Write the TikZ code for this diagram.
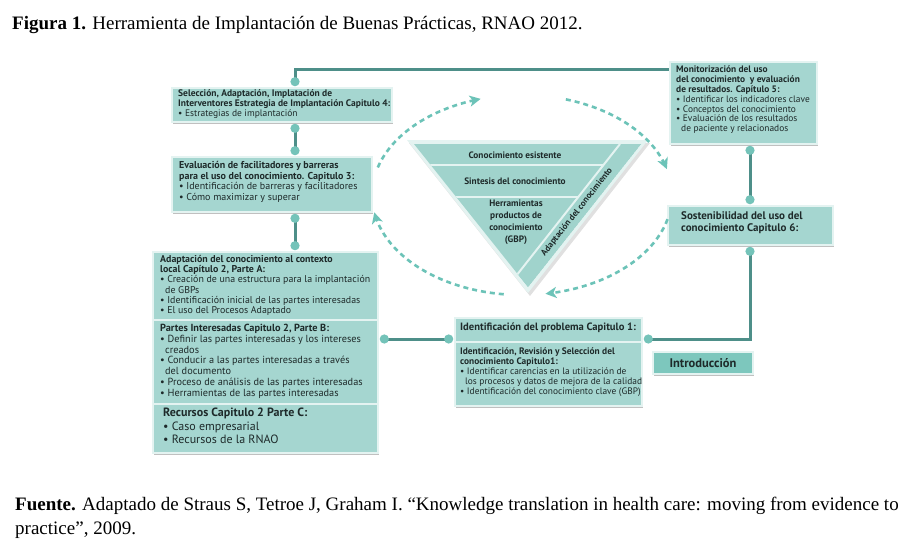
\documentclass[tikz,border=0pt]{standalone}
\usepackage{fontspec}
\setmainfont{Liberation Serif}
\newfontfamily\dfont{PT Sans}
\usetikzlibrary{shadows,arrows.meta,calc}
\definecolor{boxfill}{HTML}{A5D6D0}
\definecolor{boxedge}{HTML}{E4F3F1}
\definecolor{lineteal}{HTML}{4E8F89}
\definecolor{dotteal}{HTML}{74C3B9}
\definecolor{dashteal}{HTML}{6CC3B8}
\definecolor{introfill}{HTML}{7DC7BD}
\definecolor{txtcol}{HTML}{1E2A2A}
\definecolor{trifill}{HTML}{A0D3CC}
\newcommand{\bl}{\textbullet\ }
\newcommand{\hg}{\hspace*{5pt}}
\newcommand{\dotat}[1]{\fill[dotteal] #1 circle (4.6);}
\begin{document}
\begin{tikzpicture}[x=1pt,y=-1pt,
  box/.style={draw=boxedge, line width=2.6pt, fill=boxfill, inner sep=0pt,
    drop shadow={shadow xshift=1.2pt, shadow yshift=-2.4pt, opacity=0.35, fill=black!70}},
  tx/.style={font=\dfont\fontsize{9}{10}\selectfont, text=txtcol, align=left, anchor=north west, inner sep=0pt},
  conn/.style={draw=lineteal, line width=3pt},
  dasharr/.style={draw=dashteal, line width=2.6pt, dash pattern=on 5pt off 4pt,
    -{Stealth[length=11pt,width=11pt,inset=3pt]}},
  tritx/.style={font=\dfont\bfseries\fontsize{9.3}{12}\selectfont, text=txtcol, align=center, inner sep=0pt}
]
\useasboundingbox (0,0) rectangle (910,547);
\fill[white] (0,0) rectangle (910,547);

% captions
\node[anchor=west, inner sep=0pt] (cap1) at (12,25) {\fontsize{19}{22}\selectfont\textbf{Figura 1.} Herramienta de Implantación de Buenas Prácticas, RNAO 2012.};
\node[anchor=west, inner sep=0pt] (cap2) at (15,506) {\fontsize{19}{22}\selectfont\textbf{Fuente.} Adaptado de Straus S, Tetroe J, Graham I. “Knowledge translation in health care: moving from evidence to};
\node[anchor=west, inner sep=0pt] (cap3) at (15,530) {\fontsize{19}{22}\selectfont practice”, 2009.};

% reference coordinates for connectors
\coordinate (vx) at (295,0);
\coordinate (vr) at (750,0);
\coordinate (hy) at (0,339);

% boxes
\node[box, minimum width=220pt, minimum height=34pt] (b4) at (282,105) {};
\node[box, minimum width=147pt, minimum height=82pt] (b5) at (743.5,103) {};
\node[box, minimum width=200pt, minimum height=55pt] (b3) at (272,184.5) {};
\node[box, minimum width=225pt, minimum height=201pt] (b2) at (265.5,352.5) {};
\node[box, minimum width=165pt, minimum height=39pt] (b6) at (750.5,225.5) {};
\node[box, minimum width=187pt, minimum height=88pt] (b1) at (548.5,362) {};
\node[box, fill=introfill, minimum width=100pt, minimum height=22pt] (intro) at (703,363)
  {\dfont\bfseries\fontsize{12.5}{14}\selectfont\textcolor{txtcol}{Introducción}};

% section separators
\draw[boxedge, line width=2.6pt] (b2.west |- 0,320) -- (b2.east |- 0,320);
\draw[boxedge, line width=2.6pt] (b2.west |- 0,404) -- (b2.east |- 0,404);
\draw[boxedge, line width=2.6pt] (b1.west |- 0,342) -- (b1.east |- 0,342);

% texts
\node[tx, font=\dfont\fontsize{9.5}{10.3}\selectfont] (t4) at (178,89) {\textbf{Selección, Adaptación, Implatación de}\\\textbf{Interventores Estrategia de Implantación Capitulo 4:}\\\bl Estrategias de implantación};
\node[tx, font=\dfont\fontsize{9.4}{9.8}\selectfont] (t5) at (676,66) {\textbf{Monitorización del uso}\\\textbf{del conocimiento\ \ y evaluación}\\\textbf{de resultados. Capítulo 5:}\\\bl Identificar los indicadores clave\\\bl Conceptos del conocimiento\\\bl Evaluación de los resultados\\\hg de paciente y relacionados};
\node[tx, font=\dfont\fontsize{10}{10.6}\selectfont] (t3) at (179,161) {\textbf{Evaluación de facilitadores y barreras}\\\textbf{para el uso del conocimiento. Capitulo 3:}\\\bl Identificación de barreras y facilitadores\\\bl Cómo maximizar y superar};
\node[tx, font=\dfont\fontsize{9.9}{10.3}\selectfont] (tA) at (160,255) {\textbf{Adaptación del conocimiento al contexto}\\\textbf{local Capítulo 2, Parte A:}\\\bl Creación de una estructura para la implantación\\\hg de GBPs\\\bl Identificación inicial de las partes interesadas\\\bl El uso del Procesos Adaptado};
\node[tx, font=\dfont\fontsize{10.3}{10.8}\selectfont] (tB) at (160,324) {\textbf{Partes Interesadas Capitulo 2, Parte B:}\\\bl Definir las partes interesadas y los intereses\\\hg creados\\\bl Conducir a las partes interesadas a través\\\hg del documento\\\bl Proceso de análisis de las partes interesadas\\\bl Herramientas de las partes interesadas};
\node[tx, font=\dfont\fontsize{12}{13.3}\selectfont] (tC) at (163,408) {\textbf{Recursos Capitulo 2 Parte C:}\\\bl Caso empresarial\\\bl Recursos de la RNAO};
\node[tx, font=\dfont\bfseries\fontsize{11}{12.5}\selectfont] (t6) at (681,211) {Sostenibilidad del uso del\\conocimiento Capitulo 6:};
\node[tx, font=\dfont\bfseries\fontsize{10.6}{11}\selectfont] (t1h) at (460,323) {Identificación del problema Capitulo 1:};
\node[tx, font=\dfont\fontsize{9.4}{9.9}\selectfont] (t1) at (460,348) {\textbf{Identificación, Revisión y Selección del}\\\textbf{conocimiento Capitulo1:}\\\bl Identificar carencias en la utilización de\\\hg los procesos y datos de mejora de la calidad\\\bl Identificación del conocimiento clave (GBP)};

% connectors
\draw[conn] ($(b4.north -| vx)+(0,-5)$) |- ($(b5.north west)+(0,9)$);
\draw[conn] ($(b4.south -| vx)+(0,5)$) -- ($(b3.north -| vx)+(0,-5)$);
\draw[conn] ($(b3.south -| vx)+(0,5)$) -- ($(b2.north -| vx)+(0,-5)$);
\draw[conn] ($(b5.south -| vr)+(0,5)$) -- ($(b6.north -| vr)+(0,-5)$);
\draw[conn] ($(b6.south -| vr)+(0,5)$) |- ($(b1.east |- hy)+(5,0)$);
\draw[conn] ($(b1.west |- hy)+(-5,0)$) -- ($(b2.east |- hy)+(5,0)$);
\dotat{($(b4.north -| vx)+(0,-5)$)}
\dotat{($(b4.south -| vx)+(0,5)$)}
\dotat{($(b3.north -| vx)+(0,-5)$)}
\dotat{($(b3.south -| vx)+(0,5)$)}
\dotat{($(b2.north -| vx)+(0,-5)$)}
\dotat{($(b5.south -| vr)+(0,5)$)}
\dotat{($(b6.north -| vr)+(0,-5)$)}
\dotat{($(b6.south -| vr)+(0,5)$)}
\dotat{($(b1.east |- hy)+(5,0)$)}
\dotat{($(b1.west |- hy)+(-5,0)$)}
\dotat{($(b2.east |- hy)+(5,0)$)}

% triangle
\fill[black, opacity=0.12] (409,143) -- (650,143) -- (530,296) -- cycle;
\fill[boxedge] (407,140) -- (648,140) -- (528,293) -- cycle;
\fill[trifill] (414,144) -- (641,144) -- (528,287) -- cycle;
\begin{scope}
  \clip (414,144) -- (641,144) -- (528,287) -- cycle;
  \draw[boxedge, line width=2pt] (400,165) -- (660,165);
  \draw[boxedge, line width=2pt] (400,197) -- (660,197);
  \fill[trifill] (620,144) -- (641,144) -- (528,287) -- (505,290) -- cycle;
  \draw[boxedge, line width=2pt] (620,144) -- (505,290);
\end{scope}
\node[tritx] (k1) at (515,155) {Conocimiento esistente};
\node[tritx] (k2) at (515,181) {Sintesis del conocimiento};
\node[tritx] (k3) at (516,222) {Herramientas\\productos de\\conocimiento\\(GBP)};
\node[tritx, font=\dfont\bfseries\fontsize{8.8}{10}\selectfont, rotate=51.7] (k4) at (577,212) {Adaptación del conocimiento};

% dashed cycle
\draw[dasharr] plot[domain=196:254, samples=50] ({522+150*cos(\x)},{195+100*sin(\x)});
\draw[dasharr] plot[domain=287:345, samples=50] ({522+150*cos(\x)},{195+100*sin(\x)});
\draw[dasharr] plot[domain=14:81, samples=50] ({522+150*cos(\x)},{195+100*sin(\x)});
\draw[dasharr] plot[domain=97:170, samples=50] ({522+150*cos(\x)},{195+100*sin(\x)});
\end{tikzpicture}
\end{document}
